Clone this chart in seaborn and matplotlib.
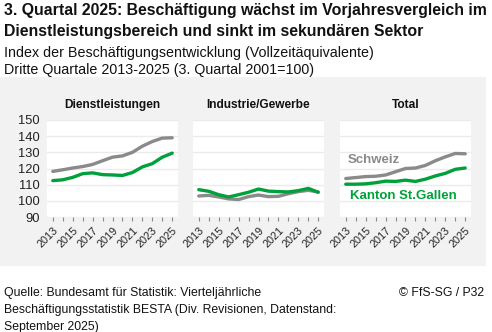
import matplotlib
matplotlib.use("Agg")
import matplotlib.pyplot as plt
import seaborn as sns
import pandas as pd
from matplotlib.patches import Rectangle

sns.set_theme(style="white")
plt.rcParams["font.family"] = ["Liberation Sans", "DejaVu Sans"]

years = list(range(2013, 2026))
panels = ["Dienstleistungen", "Industrie/Gewerbe", "Total"]
regions = ["Schweiz", "Kanton St.Gallen"]

schweiz_dienst = [118.2, 119.2, 120.3, 121.2, 122.5, 124.8, 127.0, 127.8, 130.0, 133.8, 136.7, 138.8, 139.0]
sg_dienst = [112.5, 113.0, 114.5, 116.8, 117.3, 116.2, 116.0, 115.7, 117.5, 121.0, 123.0, 127.0, 129.5]
schweiz_industrie = [103.0, 103.4, 102.4, 101.2, 100.8, 102.6, 103.6, 102.6, 102.8, 104.4, 105.7, 106.5, 105.5]
sg_industrie = [106.9, 105.9, 103.8, 102.4, 103.8, 105.3, 107.3, 106.0, 105.7, 105.5, 106.3, 107.7, 105.3]
schweiz_total = [113.8, 114.4, 115.0, 115.2, 116.0, 118.0, 120.0, 120.3, 121.9, 124.8, 127.2, 129.3, 129.1]
sg_total = [110.3, 110.3, 110.5, 111.2, 112.2, 112.0, 112.8, 112.0, 113.4, 115.4, 117.0, 119.5, 120.3]

series = {
    ("Dienstleistungen", "Schweiz"): schweiz_dienst,
    ("Dienstleistungen", "Kanton St.Gallen"): sg_dienst,
    ("Industrie/Gewerbe", "Schweiz"): schweiz_industrie,
    ("Industrie/Gewerbe", "Kanton St.Gallen"): sg_industrie,
    ("Total", "Schweiz"): schweiz_total,
    ("Total", "Kanton St.Gallen"): sg_total,
}
rows = []
for (panel, region), vals in series.items():
    for y, v in zip(years, vals):
        rows.append({"panel": panel, "region": region, "year": y, "index": v})
df = pd.DataFrame(rows)

GREY = "#8a8a8a"
GREEN = "#00a13a"
palette = {"Schweiz": GREY, "Kanton St.Gallen": GREEN}

W, H = 492, 332
fig = plt.figure(figsize=(W / 100, H / 100), dpi=100)
fig.patch.set_facecolor("white")

# light grey backdrop behind the three small multiples
fig.add_artist(Rectangle((0, 1 - 266 / H), 486 / W, (266 - 77) / H,
                         transform=fig.transFigure, facecolor="#f2f2f2",
                         edgecolor="none", zorder=0))

lefts = [47, 193, 340]
ax_w, top, bottom = 131, 120, 217
for i, (panel, left) in enumerate(zip(panels, lefts)):
    ax = fig.add_axes([left / W, 1 - bottom / H, ax_w / W, (bottom - top) / H])
    ax.set_facecolor("white")
    sub = df[df.panel == panel]
    sns.lineplot(data=sub, x="year", y="index", hue="region", hue_order=regions,
                 palette=palette, linewidth=2.4, legend=False, ax=ax)
    ax.set_xlim(2012.42, 2025.58)
    ax.set_ylim(90, 150)
    ax.set_yticks(range(90, 151, 10))
    ax.grid(axis="y", color="#ebebeb", linewidth=1)
    ax.set_axisbelow(True)
    for s in ax.spines.values():
        s.set_visible(False)
    ax.set_xticks(years)
    ax.set_xticklabels([str(y) if y % 2 == 1 else "" for y in years],
                       rotation=45, ha="right", rotation_mode="anchor",
                       fontsize=7.8, color="#222222")
    ax.tick_params(axis="x", bottom=True, length=3, width=0.8, color="#888888", pad=3)
    ax.tick_params(axis="y", left=False, length=0, pad=5, labelsize=9.3, labelcolor="#222222")
    if i > 0:
        ax.set_yticklabels([])
    ax.set_xlabel("")
    ax.set_ylabel("")
    ax.set_title(panel, fontsize=8.6, fontweight="bold", color="#111111", pad=9)
    if panel == "Total":
        ax.text(2013.2, 125.3, "Schweiz", color=GREY, fontsize=9.5,
                fontweight="bold", va="center", ha="left")
        ax.text(2013.4, 102.8, "Kanton St.Gallen", color=GREEN, fontsize=9.5,
                fontweight="bold", va="center", ha="left")

fig.text(4 / W, 1 - 15 / H, "3. Quartal 2025: Beschäftigung wächst im Vorjahresvergleich im",
         fontsize=11.4, fontweight="bold", va="baseline", ha="left", color="#111111")
fig.text(4 / W, 1 - 36 / H, "Dienstleistungsbereich und sinkt im sekundären Sektor",
         fontsize=11.4, fontweight="bold", va="baseline", ha="left", color="#111111")
fig.text(4 / W, 1 - 57 / H, "Index der Beschäftigungsentwicklung (Vollzeitäquivalente)",
         fontsize=10.3, va="baseline", ha="left", color="#111111")
fig.text(4 / W, 1 - 74 / H, "Dritte Quartale 2013-2025 (3. Quartal 2001=100)",
         fontsize=10.3, va="baseline", ha="left", color="#111111")

fig.text(4 / W, 1 - 296 / H, "Quelle: Bundesamt für Statistik: Vierteljährliche",
         fontsize=8.8, va="baseline", ha="left", color="#111111")
fig.text(4 / W, 1 - 313 / H, "Beschäftigungsstatistik BESTA (Div. Revisionen, Datenstand:",
         fontsize=8.8, va="baseline", ha="left", color="#111111")
fig.text(4 / W, 1 - 330 / H, "September 2025)",
         fontsize=8.8, va="baseline", ha="left", color="#111111")
fig.text(484 / W, 1 - 296 / H, "© FfS-SG / P32",
         fontsize=8.8, va="baseline", ha="right", color="#111111")

fig.savefig("out.png", dpi=100, facecolor="white")
